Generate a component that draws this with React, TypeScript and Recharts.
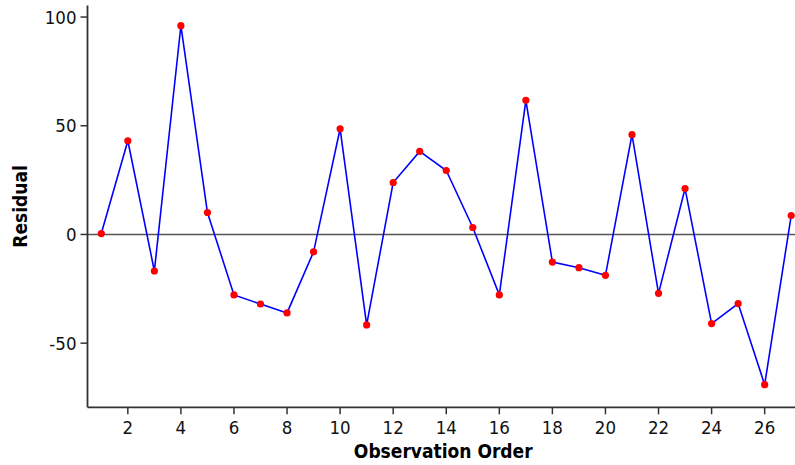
import { LineChart, Line, XAxis, YAxis, ReferenceLine } from 'recharts';

const orders = [
  1, 2, 3, 4, 5, 6, 7, 8, 9, 10, 11, 12, 13, 14, 15, 16, 17, 18, 19, 20, 21, 22, 23, 24, 25, 26, 27,
];

const residuals = [
  0.4, 43.1, -16.8, 96.0, 10.1, -27.8, -32.0, -36.1, -8.0, 48.6, -41.6, 23.9, 38.2, 29.4, 3.2, -27.8,
  61.7, -12.7, -15.3, -18.8, 45.9, -27.1, 21.1, -41.0, -31.8, -69.1, 8.7,
];

const xTicks = [2, 4, 6, 8, 10, 12, 14, 16, 18, 20, 22, 24, 26];
const yTicks = [-50, 0, 50, 100];

const X_DOMAIN: [number, number] = [0.48, 27.52];
const Y_DOMAIN: [number, number] = [-79.5, 105.3];

const FONT = "'DejaVu Sans Condensed', 'DejaVu Sans', sans-serif";
const AXIS_COLOR = '#333333';

const chartData = orders.map((order, i) => ({ order, residual: residuals[i] }));

const tickStyle = { fill: '#111111', fontSize: 18.5, fontFamily: FONT };

function YTitle({ viewBox }: any) {
  const cx = 27;
  const cy = viewBox.y + viewBox.height / 2;
  return (
    <text
      x={cx}
      y={cy}
      textAnchor="middle"
      transform={`rotate(-90, ${cx}, ${cy})`}
      style={{ fontFamily: FONT, fontWeight: 700, fontSize: 19, fill: '#000' }}
    >
      Residual
    </text>
  );
}

function XTitle({ viewBox }: any) {
  const cx = viewBox.x + viewBox.width / 2 - 3;
  const y = viewBox.y + 51;
  return (
    <text
      x={cx}
      y={y}
      textAnchor="middle"
      style={{ fontFamily: FONT, fontWeight: 700, fontSize: 19, fill: '#000' }}
    >
      Observation Order
    </text>
  );
}

export default function App() {
  return (
    <div
      style={{
        position: 'absolute',
        left: 0,
        top: 0,
        width: 795,
        height: 465,
        overflow: 'hidden',
        background: '#ffffff',
      }}
    >
      <LineChart
        width={810}
        height={465}
        data={chartData}
        margin={{ top: 5.5, right: 5, bottom: 7.7, left: 27.5 }}
      >
        <XAxis
          xAxisId="top"
          orientation="top"
          type="number"
          dataKey="order"
          domain={X_DOMAIN}
          allowDataOverflow
          height={0}
          tick={false}
          tickLine={false}
          axisLine={{ stroke: AXIS_COLOR, strokeWidth: 1.8 }}
        />
        <XAxis
          type="number"
          dataKey="order"
          domain={X_DOMAIN}
          allowDataOverflow
          ticks={xTicks}
          interval={0}
          height={50}
          tickSize={7}
          tickMargin={7}
          tick={tickStyle}
          tickLine={{ stroke: AXIS_COLOR, strokeWidth: 1.5 }}
          axisLine={{ stroke: AXIS_COLOR, strokeWidth: 1.8 }}
          label={<XTitle />}
        />
        <YAxis
          type="number"
          domain={Y_DOMAIN}
          allowDataOverflow
          ticks={yTicks}
          interval={0}
          width={60}
          tickSize={7}
          tickMargin={4}
          tick={tickStyle}
          tickLine={{ stroke: AXIS_COLOR, strokeWidth: 1.5 }}
          axisLine={{ stroke: AXIS_COLOR, strokeWidth: 1.8 }}
          label={<YTitle />}
        />
        <ReferenceLine y={0} stroke="#555555" strokeWidth={1.5} />
        <Line
          type="linear"
          dataKey="residual"
          stroke="#0000ff"
          strokeWidth={1.6}
          dot={{ r: 3.6, fill: '#ff0000', stroke: 'none' }}
          activeDot={false}
          isAnimationActive={false}
        />
      </LineChart>
    </div>
  );
}
